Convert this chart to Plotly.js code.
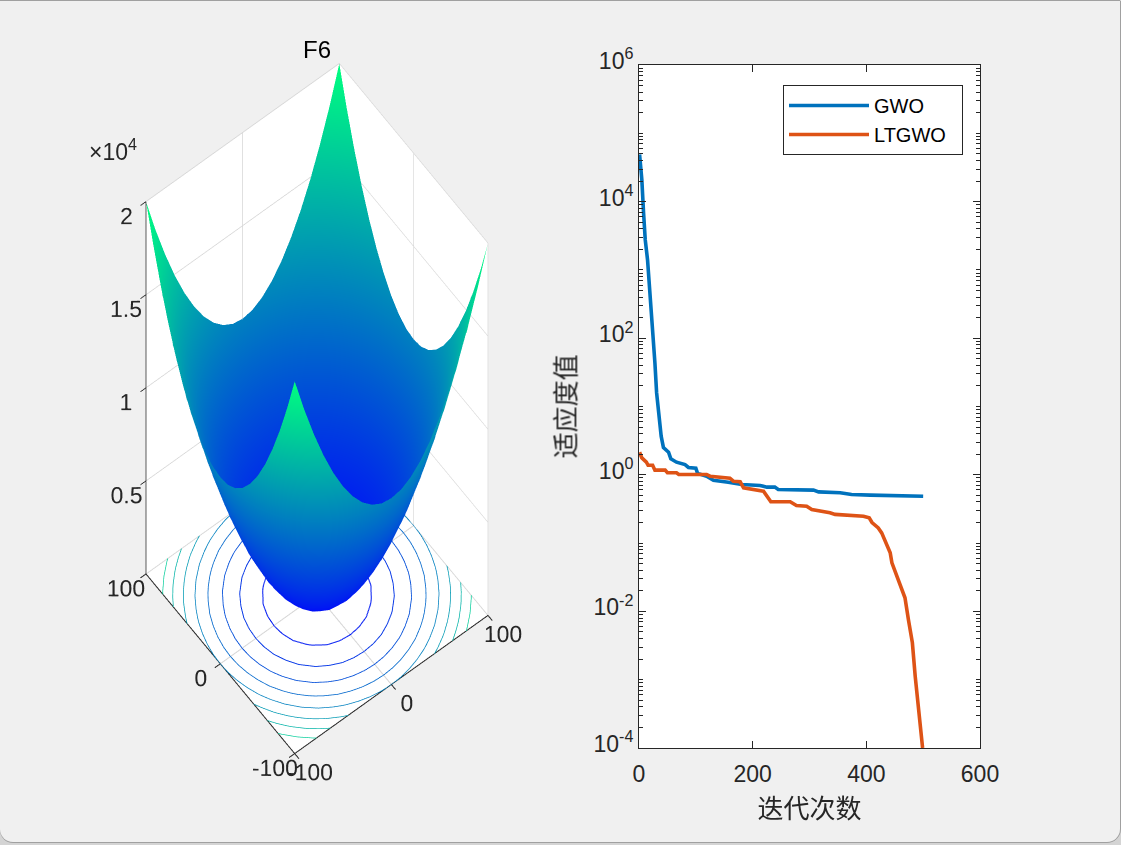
<!DOCTYPE html>
<html>
<head>
<meta charset="utf-8">
<script src="https://cdn.plot.ly/plotly-3.0.1.min.js"></script>
<style>
html,body{margin:0;padding:0;width:1121px;height:845px;overflow:hidden;background:#d4d4d4;}
#frame{position:absolute;left:0;top:1px;width:1120px;height:841px;background:#f0f0f0;border-radius:0 0 13px 13px;box-shadow:0 1px 0 #a0a0a0,1px 0 0 #a0a0a0,0 -1px 0 #a0a0a0;}
#plot{position:absolute;left:0;top:0;width:1121px;height:845px;}
</style>
</head>
<body>
<div id="frame"></div>
<div id="plot"></div>
<script>
// ---- 3D surface (F6) ----
const surfX = [-100,-90,-80,-70,-60,-50,-40,-30,-20,-10,0,10,20,30,40,50,60,70,80,90,100];
const surfY = [-100,-90,-80,-70,-60,-50,-40,-30,-20,-10,0,10,20,30,40,50,60,70,80,90,100];
const surfZ = [
[20000,18100,16400,14900,13600,12500,11600,10900,10400,10100,10000,10100,10400,10900,11600,12500,13600,14900,16400,18100,20000],
[18100,16200,14500,13000,11700,10600,9700,9000,8500,8200,8100,8200,8500,9000,9700,10600,11700,13000,14500,16200,18100],
[16400,14500,12800,11300,10000,8900,8000,7300,6800,6500,6400,6500,6800,7300,8000,8900,10000,11300,12800,14500,16400],
[14900,13000,11300,9800,8500,7400,6500,5800,5300,5000,4900,5000,5300,5800,6500,7400,8500,9800,11300,13000,14900],
[13600,11700,10000,8500,7200,6100,5200,4500,4000,3700,3600,3700,4000,4500,5200,6100,7200,8500,10000,11700,13600],
[12500,10600,8900,7400,6100,5000,4100,3400,2900,2600,2500,2600,2900,3400,4100,5000,6100,7400,8900,10600,12500],
[11600,9700,8000,6500,5200,4100,3200,2500,2000,1700,1600,1700,2000,2500,3200,4100,5200,6500,8000,9700,11600],
[10900,9000,7300,5800,4500,3400,2500,1800,1300,1000,900,1000,1300,1800,2500,3400,4500,5800,7300,9000,10900],
[10400,8500,6800,5300,4000,2900,2000,1300,800,500,400,500,800,1300,2000,2900,4000,5300,6800,8500,10400],
[10100,8200,6500,5000,3700,2600,1700,1000,500,200,100,200,500,1000,1700,2600,3700,5000,6500,8200,10100],
[10000,8100,6400,4900,3600,2500,1600,900,400,100,0,100,400,900,1600,2500,3600,4900,6400,8100,10000],
[10100,8200,6500,5000,3700,2600,1700,1000,500,200,100,200,500,1000,1700,2600,3700,5000,6500,8200,10100],
[10400,8500,6800,5300,4000,2900,2000,1300,800,500,400,500,800,1300,2000,2900,4000,5300,6800,8500,10400],
[10900,9000,7300,5800,4500,3400,2500,1800,1300,1000,900,1000,1300,1800,2500,3400,4500,5800,7300,9000,10900],
[11600,9700,8000,6500,5200,4100,3200,2500,2000,1700,1600,1700,2000,2500,3200,4100,5200,6500,8000,9700,11600],
[12500,10600,8900,7400,6100,5000,4100,3400,2900,2600,2500,2600,2900,3400,4100,5000,6100,7400,8900,10600,12500],
[13600,11700,10000,8500,7200,6100,5200,4500,4000,3700,3600,3700,4000,4500,5200,6100,7200,8500,10000,11700,13600],
[14900,13000,11300,9800,8500,7400,6500,5800,5300,5000,4900,5000,5300,5800,6500,7400,8500,9800,11300,13000,14900],
[16400,14500,12800,11300,10000,8900,8000,7300,6800,6500,6400,6500,6800,7300,8000,8900,10000,11300,12800,14500,16400],
[18100,16200,14500,13000,11700,10600,9700,9000,8500,8200,8100,8200,8500,9000,9700,10600,11700,13000,14500,16200,18100],
[20000,18100,16400,14900,13600,12500,11600,10900,10400,10100,10000,10100,10400,10900,11600,12500,13600,14900,16400,18100,20000]
];
const xyTicks = [-100,0,100];
const xyTickText = ['-100','0','100'];
const zTickVals = [5000,10000,15000,20000];
const zTickText = ['0.5','1','1.5','2'];
const edgeX = [-100,-100,-100,100];
const edgeY = [100,100,-100,-100];
const edgeZ = [20000,0,0,0];

// ---- Convergence curves ----
const gwoIter = [1,5,8,11,15,18,21,25,28,31,35,39,43,52,56,66,81,87,100,103,119,131,157,181,213,225,239,245,307,316,354,374,407,454,500];
const gwoFit = [49000,21000,6900,2750,1410,645,295,120,43.7,15.8,7.2,3.67,2.51,2.14,1.71,1.53,1.41,1.28,1.25,1.05,0.955,0.83,0.78,0.72,0.697,0.66,0.66,0.61,0.596,0.562,0.545,0.515,0.504,0.493,0.486];
const ltIter = [1,5,13,16,24,28,46,50,66,70,119,125,160,166,178,184,219,226,232,266,277,295,304,336,345,395,405,410,421,427,442,445,456,468,474,481,486,492,496.5,499];
const ltFit = [2.14,1.77,1.53,1.38,1.38,1.17,1.17,1.07,1.07,1.01,1.01,0.955,0.89,0.805,0.79,0.645,0.575,0.486,0.403,0.403,0.355,0.347,0.31,0.278,0.263,0.248,0.234,0.2,0.167,0.141,0.0724,0.0513,0.0295,0.0158,0.00759,0.00347,0.00112,0.000363,0.000166,0.0001];
const xTicks = [0,200,400,600];
const yTickVals = [1e-4,1e-2,1,1e2,1e4,1e6];
const yTickText = ['10<sup>-4</sup>','10<sup>-2</sup>','10<sup>0</sup>','10<sup>2</sup>','10<sup>4</sup>','10<sup>6</sup>'];

const W = 1121, H = 845;
const ink = '#262626';
const tickFont = {family:'"Liberation Sans", Arial, sans-serif', size:23, color:ink};
const glTickFont = {family:'"Liberation Sans", Arial, sans-serif', size:16.6, color:ink};
const cjkFont = {family:'"Noto Sans CJK SC", sans-serif', size:26, color:ink};

function axis3d(vals, text, range){
  const a = {range:range, tickmode:'array', tickvals:vals, ticktext:text, showgrid:true, gridcolor:'#d6d6d6', gridwidth:2,
    showline:true, linecolor:ink, linewidth:2, ticks:'outside', ticklen:7, tickcolor:ink, tickwidth:2, tickangle:0,
    showbackground:true, backgroundcolor:'#ffffff', zeroline:false, showspikes:false,
    tickfont:glTickFont, title:{text:''}};
  return a;
}

const surfaceBase = {type:'surface', x:surfX, y:surfY, z:surfZ, cmin:0, cmax:20000, showscale:false,
   colorscale:[[0,'rgb(0,0,255)'],[1,'rgb(0,255,128)']],
   lighting:{ambient:1,diffuse:0,specular:0,roughness:1,fresnel:0},
   hoverinfo:'skip', scene:'scene', showlegend:false};

const data = [
  Object.assign({}, surfaceBase, {
   contours:{z:{show:true,start:2000,end:18000,size:2000,usecolormap:true,width:2,project:{z:true},highlight:false},
             x:{highlight:false},y:{highlight:false}}}),
  Object.assign({}, surfaceBase, {hidesurface:true,
   contours:{z:{show:true,start:2045,end:18045,size:2000,usecolormap:true,width:2,project:{z:true},highlight:false},
             x:{highlight:false},y:{highlight:false}}}),
  {type:'scatter3d', mode:'lines', x:edgeX, y:edgeY, z:edgeZ, line:{color:ink,width:1.5}, hoverinfo:'skip', showlegend:false, scene:'scene'},
  {type:'scatter', mode:'lines', name:'GWO', x:gwoIter, y:gwoFit, xaxis:'x', yaxis:'y',
   line:{color:'#0072BD',width:3.6}},
  {type:'scatter', mode:'lines', name:'LTGWO\u00a0\u00a0', x:ltIter, y:ltFit, xaxis:'x', yaxis:'y',
   line:{color:'#DE5316',width:3.6}}
];

const layout = {
  width:W, height:H, margin:{l:0,r:0,t:0,b:0}, autosize:false,
  paper_bgcolor:'rgba(0,0,0,0)', plot_bgcolor:'#ffffff', showlegend:true,
  scene:{
    domain:{x:[0,634/W], y:[1-817/H,1]},
    bgcolor:'rgba(0,0,0,0)',
    aspectmode:'manual', aspectratio:{x:0.597,y:0.597,z:2.467},
    camera:{eye:{x:-0.8,y:-1.04,z:3.3}, up:{x:0,y:0,z:1}, center:{x:0,y:0,z:0}, projection:{type:'orthographic'}},
    xaxis:axis3d(xyTicks,xyTickText,[-100,100]),
    yaxis:axis3d(xyTicks,xyTickText,[-100,100]),
    zaxis:axis3d(zTickVals,zTickText,[0,20000])
  },
  xaxis:{domain:[639/W,980/W], range:[0,600], tickmode:'array', tickvals:xTicks, ticks:'inside', ticklen:7,
    tickcolor:ink, tickfont:tickFont, showgrid:false, zeroline:false, showline:true, linecolor:ink, linewidth:1, mirror:'ticks',
    ticklabelstandoff:5,
    title:{text:'迭代次数', font:cjkFont, standoff:14}},
  yaxis:{domain:[1-748/H,1-65/H], type:'log', range:[-4,6], tickmode:'array', tickvals:yTickVals, ticktext:yTickText,
    ticks:'inside', ticklen:7, tickcolor:ink, tickfont:tickFont, showgrid:false, zeroline:false, showline:true, linecolor:ink, linewidth:1, mirror:'ticks',
    ticklabelshift:-4,
    minor:{dtick:'D1', ticks:'inside', ticklen:4, tickcolor:ink, showgrid:false},
    title:{text:'适应度值', font:cjkFont, standoff:10}},
  legend:{x:963/W, xanchor:'right', y:1-85/H, yanchor:'top', bgcolor:'#ffffff', bordercolor:ink, borderwidth:1,
    font:{family:'"Liberation Sans", Arial, sans-serif', size:20, color:'#000000'}, itemwidth:80, tracegroupgap:0, traceorder:'normal'},
  annotations:[
    {xref:'paper',yref:'paper',x:317/W,y:1-49/H,xanchor:'center',yanchor:'middle',text:'F6',showarrow:false,font:{family:'"Liberation Sans", Arial, sans-serif',size:24,color:'#000000'}},
    {xref:'paper',yref:'paper',x:113/W,y:1-150/H,xanchor:'center',yanchor:'middle',text:'×10<sup>4</sup>',showarrow:false,font:tickFont}
  ]
};

Plotly.newPlot('plot', data, layout, {displayModeBar:false, responsive:false});
</script>
</body>
</html>
